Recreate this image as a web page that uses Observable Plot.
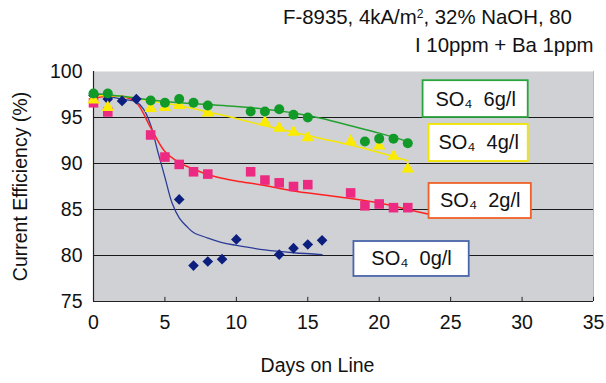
<!DOCTYPE html>
<html><head><meta charset="utf-8">
<script src="https://cdn.jsdelivr.net/npm/d3@7"></script>
<script src="https://cdn.jsdelivr.net/npm/@observablehq/plot@0.6"></script>
<style>
body{margin:0;background:#fff;font-family:"Liberation Sans",Arial,Helvetica,sans-serif;}
#wrap{position:relative;width:606px;height:383px;}
#title{position:relative;height:60px;font-size:20.4px;color:#111;line-height:23px;}
#title div{position:absolute;white-space:nowrap;}
sup{font-size:12px;vertical-align:top;position:relative;top:-3px;}
</style></head><body>
<div id="wrap">
<div id="title"><div style="left:283px;top:6px">F-8935, 4kA/m<sup>2</sup>, 32% NaOH, 80</div><div style="left:415px;top:34px">I 10ppm + Ba 1ppm</div></div>
<div id="chart"></div>
</div>
<script>
// Points
const green6Days = [0,1,4,5,6,7,8,11,12,13,14,15,19,20,21,22];
const green6Vals = [97.6,97.6,96.85,96.6,97.0,96.6,96.3,95.65,95.65,95.9,95.3,95.0,92.4,92.7,92.7,92.2];
const yellow4Days = [0,1,4,5,6,8,12,13,14,15,18,20,21,22];
const yellow4Vals = [96.9,96.1,96.0,96.1,96.3,95.5,94.5,93.85,93.4,92.8,92.4,91.9,90.8,89.4];
const pink2Days = [0,1,4,5,6,7,8,11,12,13,14,15,18,19,20,21,22];
const pink2Vals = [96.6,95.6,93.1,90.7,89.9,89.1,88.85,89.1,88.2,87.9,87.5,87.7,86.8,85.4,85.6,85.2,85.2];
const blue0Days = [0,1,2,3,6,7,8,9,10,13,14,15,16];
const blue0Vals = [97.4,97.0,96.8,97.0,86.1,78.9,79.35,79.6,81.75,80.1,80.8,81.2,81.65];
// Trend lines
const green6LineDays = [0,2,4,6,8,10,12,14,16,18,20,22];
const green6LineVals = [97.6,97.3,96.9,96.6,96.4,96.2,95.9,95.5,94.9,94.1,93.3,92.4];
const yellow4LineDays = [0,2,4,6,8,10,12,14,16,18,20,22];
const yellow4LineVals = [97.4,97.3,96.8,96.3,95.6,94.9,94.1,93.4,92.7,92.0,91.2,90.3];
const red2LineDays = [0,1,2,3,4,5,6,7,8,9,10,12,14,16,18,20,22,23.4];
const red2LineVals = [97.1,97.3,97.3,96.6,93.9,91.3,90.1,89.4,88.8,88.4,88.1,87.6,87.0,86.6,86.2,85.7,85.0,84.5];
const blue0LineDays = [0,1,2,3,3.5,4,4.5,5,5.5,6,6.5,7,8,9,10,12,14,16];
const blue0LineVals = [97.6,97.3,97.0,96.7,95.9,94.2,91.3,88.5,85.7,84.1,83.2,82.5,81.9,81.4,81.1,80.6,80.3,80.1];
// Axis ticks and titles
const xTicks = [0,5,10,15,20,25,30,35];
const yTicks = [75,80,85,90,95,100];
const gridY = [80,85,90,95];
const xTitle = "Days on Line";
const yTitle = "Current Efficiency (%)";
// Legend boxes
const legendLabels = ["SO\u2084  6g/l","SO\u2084  4g/l","SO\u2084  2g/l","SO\u2084  0g/l"];
const legendX1 = [23.07,23.49,23.49,18.23];
const legendX2 = [30.43,30.43,30.65,26.30];
const legendY1 = [95.0,90.22,84.02,77.72];
const legendY2 = [99.0,94.24,87.83,81.52];
const legendStroke = ["#2aa43c","#f2e600","#f06028","#4a66aa"];

const zip = (xs, ys) => xs.map((x, i) => ({x, y: ys[i]}));
const legend = legendLabels.map((label, i) => ({label, x1: legendX1[i], x2: legendX2[i], y1: legendY1[i], y2: legendY2[i], stroke: legendStroke[i]}));
const FS = 19.5;

const chart = Plot.plot({
  width: 606, height: 323,
  marginTop: 11, marginBottom: 82, marginLeft: 93, marginRight: 13,
  style: {fontFamily: '"Liberation Sans", Arial, Helvetica, sans-serif', color: "#111", background: "#fff"},
  x: {domain: [0, 35], axis: null},
  y: {domain: [75, 100], axis: null},
  marks: [
    Plot.frame({fill: "#d0d1d5", stroke: null}),
    Plot.ruleY(gridY, {stroke: "#1a1a1a", strokeWidth: 1}),
    Plot.ruleX([35], {stroke: "#b8b8b8"}),
    Plot.ruleX(xTicks.slice(1), {y1: 75, y2: 75.45, stroke: "#222"}),
    Plot.ruleY([75], {stroke: "#222", strokeWidth: 1.2}),
    Plot.ruleX([0], {stroke: "#222", strokeWidth: 1.2}),
    Plot.text(xTicks, {x: d => d, frameAnchor: "bottom", dy: 27, text: d => String(d), fontSize: FS, fill: "#111"}),
    Plot.text(yTicks, {y: d => d, frameAnchor: "left", dx: -11, textAnchor: "end", text: d => String(d), fontSize: FS, fill: "#111"}),
    Plot.text([xTitle], {frameAnchor: "bottom", dx: -26, dy: 70, text: d => d, fontSize: FS, fill: "#111"}),
    Plot.text([yTitle], {frameAnchor: "left", dx: -73, rotate: -90, textAnchor: "middle", text: d => d, fontSize: FS, fill: "#111"}),
    Plot.line(zip(blue0LineDays, blue0LineVals), {x: "x", y: "y", stroke: "#2b3b98", strokeWidth: 1.3, curve: "catmull-rom"}),
    Plot.line(zip(red2LineDays, red2LineVals), {x: "x", y: "y", stroke: "#ff2222", strokeWidth: 1.5, curve: "catmull-rom"}),
    Plot.line(zip(yellow4LineDays, yellow4LineVals), {x: "x", y: "y", stroke: "#f5e800", strokeWidth: 1.5, curve: "catmull-rom"}),
    Plot.line(zip(green6LineDays, green6LineVals), {x: "x", y: "y", stroke: "#23a030", strokeWidth: 1.5, curve: "catmull-rom"}),
    Plot.dot(zip(blue0Days, blue0Vals), {x: "x", y: "y", symbol: "diamond2", r: 4.8, fill: "#0c1f7e", stroke: null}),
    Plot.dot(zip(pink2Days, pink2Vals), {x: "x", y: "y", symbol: "square", r: 5.4, fill: "#ec2a82", stroke: null}),
    Plot.dot(zip(yellow4Days, yellow4Vals), {x: "x", y: "y", symbol: "triangle", r: 4.6, fill: "#fbeb00", stroke: null}),
    Plot.dot(zip(green6Days, green6Vals), {x: "x", y: "y", symbol: "circle", r: 5, fill: "#129a28", stroke: null}),
    Plot.rect(legend, {x1: "x1", x2: "x2", y1: "y1", y2: "y2", fill: "#fff", stroke: "stroke", strokeWidth: 1.8}),
    Plot.text(legend, {x: d => (d.x1 + d.x2) / 2, y: d => (d.y1 + d.y2) / 2, text: "label", fontSize: 20, fill: "#111"})
  ]
});
document.getElementById("chart").appendChild(chart);
</script>
</body></html>
